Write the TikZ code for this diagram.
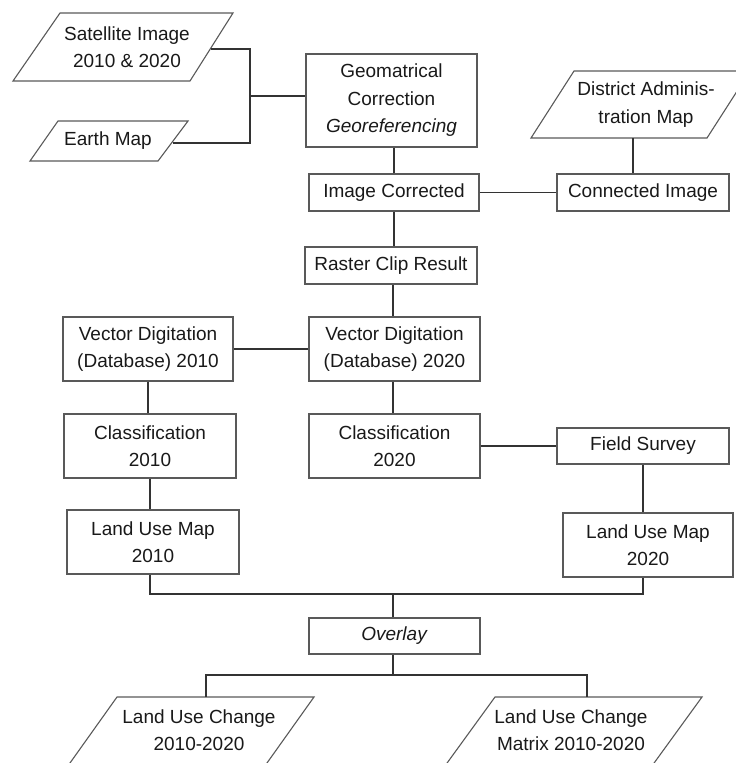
\documentclass[tikz,border=0pt]{standalone}
\usepackage{fontspec}
\setmainfont{Liberation Sans}
\begin{document}
\begin{tikzpicture}[x=1pt,y=-1pt, line join=miter]
\tikzset{
  lbl/.style={align=center, font=\fontsize{19}{27.5}\selectfont, text=black!90, inner sep=0pt},
  box/.style 2 args={lbl, draw=black!65, line width=1.1pt, minimum width=#1pt, minimum height=#2pt},
  shp/.style={draw=black!65, line width=1.1pt},
  con/.style={draw=black!80, line width=1.1pt},
}
\useasboundingbox (0,0) rectangle (736,763);
\clip (0,0) rectangle (736,763);

% inputs (parallelograms)
\draw[shp] (60,13) -- (233,13) -- (190,81) -- (13,81) -- cycle;
\node[lbl] (sat) at (127,47) {Satellite Image\\2010 \& 2020};
\coordinate (satr) at (211,49);
\draw[shp] (58,121) -- (188,121) -- (158,161) -- (30,161) -- cycle;
\node[lbl] (earth) at (108,141) {Earth Map};
\coordinate (earthr) at (173,143);

\node[box={171}{93}] (geo) at (391.5,100.5) {Geomatrical\\Correction\\\textit{Georeferencing}};
\coordinate (brk) at (250,96);
\draw[con] (satr) -| (brk) |- (earthr);
\draw[con] (brk) -- (brk -| geo.west);

\node[box={170}{37}] (ic) at (394,192.5) {Image Corrected};
\draw[con] (ic.north) -- (ic.north |- geo.south);
\node[box={172}{37}] (ci) at (643,192.5) {Connected Image};
\draw[con] (ic.east) -- (ci.west);

\draw[shp] (574,71) -- (750,71) -- (707,138) -- (531,138) -- cycle;
\node[lbl] (dist) at (646,104.5) {District Adminis-\\tration Map};
\coordinate (distb) at (633,138);
\draw[con] (distb) -- (distb |- ci.north);

\node[box={172}{37}] (rc) at (391,265.5) {Raster Clip Result};
\draw[con] (ic.south) -- (ic.south |- rc.north);

\coordinate (mid) at (393,0);
\node[box={171}{64}] (vd2) at (394.5,349) {Vector Digitation\\(Database) 2020};
\draw[con] (mid |- rc.south) -- (mid |- vd2.north);
\node[box={170}{64}] (vd1) at (148,349) {Vector Digitation\\(Database) 2010};
\draw[con] (vd1.east) -- (vd2.west);

\node[box={172}{64}] (c1) at (150,446) {Classification\\2010};
\node[box={171}{64}] (c2) at (394.5,446) {Classification\\2020};
\draw[con] (vd1.south) -- (vd1.south |- c1.north);
\draw[con] (mid |- vd2.south) -- (mid |- c2.north);
\node[box={172}{36}] (fs) at (643,446) {Field Survey};
\draw[con] (c2.east) -- (fs.west);

\node[box={172}{64}] (l1) at (153,542) {Land Use Map\\2010};
\node[box={170}{64}] (l2) at (648,545) {Land Use Map\\2020};
\draw[con] (c1.south) -- (c1.south |- l1.north);
\draw[con] (fs.south) -- (fs.south |- l2.north);

\coordinate (jn) at (393,594);
\draw[con] (c1.south |- l1.south) |- (jn) -| (fs.south |- l2.south);

\node[box={171}{36}] (ov) at (394.5,636) {\textit{Overlay}};
\draw[con] (jn) -- (jn |- ov.north);

\coordinate (sp) at (393,675);
\draw[con] (sp |- ov.south) -- (sp);

\draw[shp] (117,697) -- (314,697) -- (262,770) -- (65,770) -- cycle;
\node[lbl] (luc1) at (199,730) {Land Use Change\\2010-2020};
\coordinate (luc1t) at (206,697);
\draw[shp] (495,697) -- (702,697) -- (649,770) -- (442,770) -- cycle;
\node[lbl] (luc2) at (571,730) {Land Use Change\\Matrix 2010-2020};
\coordinate (luc2t) at (587,697);
\draw[con] (luc1t) |- (sp) -| (luc2t);
\end{tikzpicture}
\end{document}
